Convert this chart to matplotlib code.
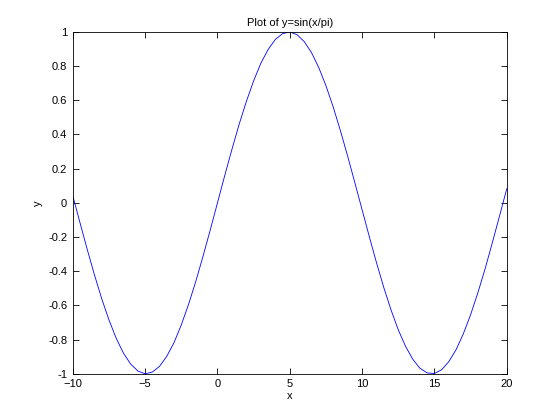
import matplotlib
matplotlib.use('Agg')
import matplotlib.pyplot as plt

# values, every 0.5 along x
x_vals = [-10, -9.5, -9, -8.5, -8, -7.5, -7, -6.5, -6, -5.5,
          -5, -4.5, -4, -3.5, -3, -2.5, -2, -1.5, -1, -0.5,
          0, 0.5, 1, 1.5, 2, 2.5, 3, 3.5, 4, 4.5,
          5, 5.5, 6, 6.5, 7, 7.5, 8, 8.5, 9, 9.5,
          10, 10.5, 11, 11.5, 12, 12.5, 13, 13.5, 14, 14.5,
          15, 15.5, 16, 16.5, 17, 17.5, 18, 18.5, 19, 19.5, 20]
y_vals = [0.041, -0.117, -0.273, -0.422, -0.561, -0.685, -0.792, -0.879, -0.943, -0.984,
          -1.000, -0.990, -0.956, -0.897, -0.817, -0.714, -0.594, -0.460, -0.313, -0.159,
          0.000, 0.159, 0.313, 0.460, 0.594, 0.714, 0.817, 0.897, 0.956, 0.990,
          1.000, 0.984, 0.943, 0.879, 0.792, 0.685, 0.561, 0.422, 0.273, 0.117,
          -0.041, -0.199, -0.352, -0.496, -0.627, -0.743, -0.839, -0.915, -0.968, -0.995,
          -0.998, -0.976, -0.928, -0.858, -0.765, -0.654, -0.526, -0.386, -0.233, -0.076, 0.083]

x_ticks = [-10, -5, 0, 5, 10, 15, 20]
y_ticks = [-1, -0.8, -0.6, -0.4, -0.2, 0, 0.2, 0.4, 0.6, 0.8, 1]
y_labels = ['-1', '-0.8', '-0.6', '-0.4', '-0.2', '0', '0.2', '0.4', '0.6', '0.8', '1']

plt.rcParams['font.family'] = ['Liberation Sans', 'DejaVu Sans']
plt.rcParams['font.size'] = 8

fig = plt.figure(figsize=(5.6, 4.2), dpi=100)
fig.patch.set_facecolor('white')
ax = fig.add_axes([0.130, 0.110, 0.775, 0.814])

ax.plot(x_vals, y_vals, color='#0000ff', linewidth=0.6)

ax.set_xlim(-10, 20)
ax.set_ylim(-1, 1)
ax.set_xticks(x_ticks)
ax.set_yticks(y_ticks)
ax.set_yticklabels(y_labels)
ax.tick_params(direction='in', length=4, width=0.6, top=True, right=True, labelsize=8, pad=4)
for s in ax.spines.values():
    s.set_linewidth(0.6)

ax.set_title('Plot of y=sin(x/pi)', fontsize=8, pad=4)
ax.set_xlabel('x', fontsize=8, labelpad=1)
ax.set_ylabel('y', fontsize=8, labelpad=4)

fig.savefig('out.png', dpi=100, facecolor='white')
